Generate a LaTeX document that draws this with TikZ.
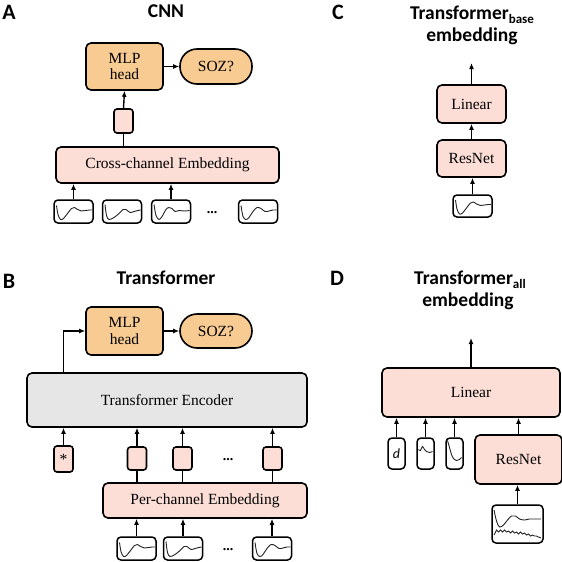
\documentclass[tikz,border=0pt]{standalone}
\usepackage{fontspec}
\setmainfont{Liberation Serif}
\newfontfamily\titlefont{Carlito}
\usetikzlibrary{arrows.meta}
\definecolor{orangefill}{RGB}{248,203,146}
\definecolor{pinkfill}{RGB}{252,222,214}
\definecolor{grayfill}{RGB}{230,230,230}
\definecolor{wavecol}{RGB}{35,35,35}
\newcommand{\wavescope}[2]{\begin{scope}[shift={(#1)}]\draw[wavestyle] plot[smooth,tension=0.55] coordinates {#2};\end{scope}}
\begin{document}
\begin{tikzpicture}[x=1pt,y=-1pt,
  box/.style={draw,line width=1.6pt,rounded corners=5pt,inner sep=0pt,align=center,font=\fontsize{15.5}{17}\selectfont},
  orangebox/.style={box,fill=orangefill},
  pinkbox/.style={box,fill=pinkfill},
  graybox/.style={box,fill=grayfill},
  stadium/.style={box,fill=orangefill,rounded corners=17pt},
  tokbox/.style={pinkbox,rounded corners=3pt,minimum width=19pt,minimum height=24pt},
  sigbox/.style={draw,line width=1.5pt,rounded corners=4pt,fill=white,minimum width=39pt,minimum height=23pt,inner sep=0pt},
  thinbox/.style={draw,line width=1.5pt,rounded corners=4pt,fill=white,minimum width=17pt,minimum height=31pt,inner sep=0pt},
  wavestyle/.style={draw=wavecol,line width=0.9pt},
  ln/.style={line width=1.4pt},
  arr/.style={line width=1.4pt,-{Latex[length=6pt,width=5pt]}},
  letter/.style={font=\titlefont\bfseries\fontsize{22}{24}\selectfont},
  ttl/.style={font=\titlefont\bfseries\fontsize{19.5}{21}\selectfont},
  dots/.style={font=\bfseries\fontsize{14}{16}\selectfont,inner sep=0pt}
]
\useasboundingbox (0,0) rectangle (562,562);

% ---------------- Panel A ----------------
\node[letter] (lA) at (9,12.5) {A};
\node[ttl] (tA) at (166,11) {CNN};
\node[orangebox,minimum width=77pt,minimum height=47pt] (mlpA) at (124.5,66.5) {MLP\\head};
\node[stadium,minimum width=72pt,minimum height=35pt] (sozA) at (216,66.5) {SOZ?};
\node[tokbox] (tokA) at (123.5,121) {};
\node[pinkbox,minimum width=223pt,minimum height=36pt] (crossA) at (167.5,165) {Cross-channel Embedding};
\node[sigbox] (A1) at (73.5,211.5) {};
\node[sigbox] (A2) at (122,211.5) {};
\node[sigbox] (A3) at (171,211.5) {};
\node[dots] (dA) at (212,213) {...};
\node[sigbox] (A4) at (258,211.5) {};
\wavescope{A1.center}{(-17,-6) (-15.5,3) (-13,8) (-10,7) (-6,2) (-2,-3) (1,-4) (4,-2) (8,-0.5) (12,-1) (16,-1.5) (18.5,-1.5)}
\wavescope{A2.center}{(-17,-7) (-15.5,4) (-13,8) (-8,6) (-3,2) (1,-2) (4,-2) (8,1) (12,0) (16,-1) (18.5,-1.5)}
\wavescope{A3.center}{(-17,-7) (-15,4) (-12,8) (-9,5) (-5,-2) (-2,-4) (1,-3) (4,0) (8,-1) (13,-0.5) (18.5,-1)}
\wavescope{A4.center}{(-17,-6) (-15,5) (-12,8) (-9,6) (-5,0) (-1,-4) (3,-3) (7,0) (11,-0.5) (15,-1.5) (18.5,-1.5)}
\draw[arr] (A1.north) -- (A1.north |- crossA.south);
\draw[arr] (A3.north) -- (A3.north |- crossA.south);
\draw[ln] (tokA.south) -- (tokA.south |- crossA.north);
\draw[arr] (tokA.north) -- (mlpA.south);
\draw[arr] (mlpA.east) -- (sozA.west);

% ---------------- Panel B ----------------
\node[letter] (lB) at (9,281) {B};
\node[ttl] (tB) at (166,278) {Transformer};
\node[orangebox,minimum width=77pt,minimum height=48pt] (mlpB) at (124.5,331) {MLP\\head};
\node[stadium,minimum width=72pt,minimum height=34pt] (sozB) at (216,331) {SOZ?};
\node[graybox,minimum width=280pt,minimum height=54pt] (encB) at (167,400) {Transformer Encoder};
\node[tokbox,minimum height=26pt,font=\fontsize{15.5}{17}\selectfont] (starB) at (63.5,459) {*};
\node[tokbox,minimum height=23pt] (tokB1) at (137,458.5) {};
\node[tokbox,minimum height=23pt] (tokB2) at (182.5,458.5) {};
\node[dots] (dB1) at (228,460) {...};
\node[tokbox,minimum height=23pt] (tokB3) at (272.5,458.5) {};
\node[pinkbox,minimum width=204pt,minimum height=35pt] (perB) at (205,500.5) {Per-channel Embedding};
\node[sigbox] (B1) at (136.5,548.5) {};
\node[sigbox] (B2) at (183,548.5) {};
\node[dots] (dB2) at (228,550) {...};
\node[sigbox] (B3) at (272,548.5) {};
\wavescope{B1.center}{(-17,-6) (-15.5,3) (-13,8) (-10,7) (-6,2) (-2,-3) (1,-4) (4,-2) (8,-0.5) (12,-1) (16,-1.5) (18.5,-1.5)}
\wavescope{B2.center}{(-17,-7) (-15.5,4) (-13,8) (-8,6) (-3,2) (1,-2) (4,-2) (8,1) (12,0) (16,-1) (18.5,-1.5)}
\wavescope{B3.center}{(-17,-6) (-15,5) (-12,8) (-9,6) (-5,0) (-1,-4) (3,-3) (7,0) (11,-0.5) (15,-1.5) (18.5,-1.5)}
\foreach \s/\t in {B1/tokB1,B2/tokB2,B3/tokB3}{
  \draw[arr] (\s.north) -- (\s.north |- perB.south);
  \draw[ln] (\t.south) -- (\t.south |- perB.north);
  \draw[arr] (\t.north) -- (\t.north |- encB.south);
}
\draw[arr] (starB.north) -- (starB.north |- encB.south);
\draw[arr] (encB.north -| starB.north) |- (mlpB.west);
\draw[arr] (mlpB.east) -- (sozB.west);

% ---------------- Panel C ----------------
\node[letter] (lC) at (338,12.5) {C};
\node[ttl] (tC1) at (472,15) {Transformer\raisebox{-4pt}{\fontsize{13}{13}\selectfont base}};
\node[ttl] (tC2) at (472,36) {embedding};
\node[pinkbox,minimum width=69pt,minimum height=38pt] (linC) at (471.5,104) {Linear};
\node[pinkbox,minimum width=69pt,minimum height=37pt] (resC) at (471.5,158.5) {ResNet};
\node[sigbox,minimum height=22pt] (sigC) at (472.5,206) {};
\wavescope{sigC.center}{(-17,-6) (-15.5,3) (-13,8) (-10,7) (-6,2) (-2,-3) (1,-4) (4,-2) (8,-0.5) (12,-1) (16,-1.5) (18.5,-1.5)}
\coordinate (outC) at (471.5,63);
\draw[arr] (linC.north) -- (outC);
\draw[arr] (resC.north) -- (linC.south);
\draw[arr] (sigC.north) -- (sigC.north |- resC.south);

% ---------------- Panel D ----------------
\node[letter] (lD) at (337,278.5) {D};
\node[ttl] (tD1) at (470,280) {Transformer\raisebox{-4pt}{\fontsize{13}{13}\selectfont all}};
\node[ttl] (tD2) at (468,301) {embedding};
\node[pinkbox,minimum width=178pt,minimum height=49pt] (linD) at (471,392.5) {Linear};
\node[thinbox,font=\titlefont\itshape\fontsize{14}{14}\selectfont] (dD) at (396.5,453.5) {d};
\node[thinbox] (w2D) at (425.5,453.5) {};
\node[thinbox] (w3D) at (454.5,453.5) {};
\node[pinkbox,minimum width=87pt,minimum height=49pt] (resD) at (518.5,459.5) {ResNet};
\node[sigbox,minimum width=51pt,minimum height=38pt] (sigD) at (517.5,524) {};
\wavescope{w2D.center}{(-7,-4) (-5,-3) (-3,-7) (-1,-4) (1,-2) (4,-1) (7,-2)}
\wavescope{w3D.center}{(-7,-13) (-5,-6) (-3,1) (-1,5) (2,7) (5,6) (7,4)}
\wavescope{sigD.center}{(-23.5,-14) (-21,-3) (-18,3) (-14,1) (-10,-4) (-6,-8) (-2,-8) (2,-5) (7,-4) (12,-5) (17,-5) (23.5,-5)}
\begin{scope}[shift={(sigD.center)}]
\draw[wavestyle] (-23.5,11) -- (-21,6) -- (-19,8) -- (-17,6) -- (-15,8) -- (-13,6) -- (-11,8) -- (-9,7) -- (-7,9) -- (-5,7) -- (-3,9) -- (-1,8) -- (1,10) -- (3,8) -- (5,10) -- (7,9) -- (9,11) -- (11,10) -- (13,12) -- (15,11) -- (17,12) -- (19,12) -- (21,13) -- (23.5,14);
\end{scope}
\coordinate (outD) at (471,338);
\draw[arr] (linD.north) -- (outD);
\foreach \b in {dD,w2D,w3D}{
  \draw[arr] (\b.north) -- (\b.north |- linD.south);
}
\draw[arr] (resD.north) -- (resD.north |- linD.south);
\draw[arr] (sigD.north) -- (sigD.north |- resD.south);
\end{tikzpicture}
\end{document}
